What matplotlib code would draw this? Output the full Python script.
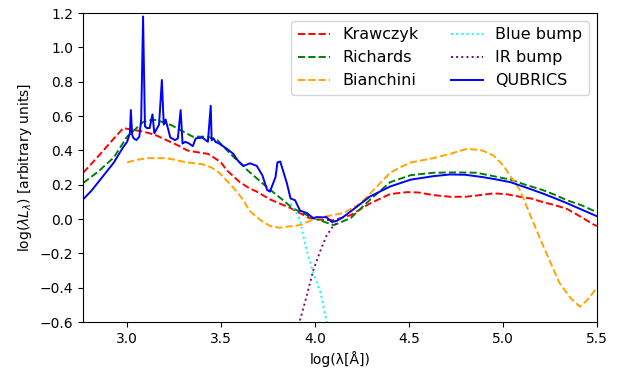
import numpy as np
import matplotlib
matplotlib.use("Agg")
import matplotlib.pyplot as plt

# values
kraw_x = [2.766, 2.85, 2.93, 2.98, 3.03, 3.085, 3.15, 3.21, 3.27, 3.32, 3.37, 3.43, 3.46, 3.50, 3.53,
          3.60, 3.65, 3.69, 3.76, 3.87, 3.97, 4.04, 4.10, 4.19, 4.29, 4.40, 4.49, 4.55, 4.63, 4.72,
          4.80, 4.88, 4.95, 5.02, 5.09, 5.15, 5.21, 5.28, 5.34, 5.42, 5.48, 5.5]
kraw_y = [0.27, 0.37, 0.47, 0.53, 0.52, 0.51, 0.49, 0.46, 0.43, 0.40, 0.39, 0.38, 0.36, 0.33, 0.285,
          0.215, 0.18, 0.16, 0.115, 0.064, 0.006, -0.005, -0.006, 0.023, 0.09, 0.146, 0.157, 0.155, 0.14, 0.13,
          0.13, 0.14, 0.15, 0.145, 0.13, 0.12, 0.10, 0.08, 0.06, 0.01, -0.03, -0.04]

rich_x = [2.766, 2.85, 2.93, 3.0, 3.05, 3.085, 3.14, 3.19, 3.24, 3.28, 3.35, 3.43, 3.48, 3.55, 3.64,
          3.74, 3.83, 3.88, 3.99, 4.10, 4.19, 4.29, 4.40, 4.51, 4.63, 4.75, 4.86, 4.95, 5.04, 5.12,
          5.21, 5.28, 5.34, 5.42, 5.5]
rich_y = [0.21, 0.28, 0.36, 0.48, 0.53, 0.565, 0.58, 0.565, 0.545, 0.52, 0.48, 0.48, 0.46, 0.38, 0.285,
          0.19, 0.11, 0.064, 0.006, -0.035, 0.006, 0.11, 0.215, 0.256, 0.27, 0.272, 0.27, 0.25, 0.23, 0.20,
          0.17, 0.14, 0.11, 0.08, 0.04]

bian_x = [3.0, 3.05, 3.11, 3.21, 3.32, 3.40, 3.45, 3.49, 3.56, 3.62, 3.65, 3.71, 3.76, 3.81, 3.92,
          4.01, 4.15, 4.24, 4.33, 4.40, 4.45, 4.51, 4.63, 4.72, 4.81, 4.89, 4.95, 5.0, 5.09, 5.20,
          5.30, 5.36, 5.41, 5.45, 5.5]
bian_y = [0.33, 0.345, 0.355, 0.355, 0.33, 0.32, 0.30, 0.27, 0.19, 0.11, 0.05, -0.006, -0.04, -0.05, -0.035,
          0.006, 0.035, 0.09, 0.19, 0.27, 0.30, 0.33, 0.355, 0.38, 0.41, 0.40, 0.37, 0.315, 0.17, -0.12,
          -0.37, -0.46, -0.51, -0.47, -0.40]

blue_bump_x = [3.87, 3.90, 3.92, 3.955, 3.99, 4.03, 4.06, 4.07]
blue_bump_y = [0.09, 0.04, -0.006, -0.18, -0.31, -0.43, -0.59, -0.62]

ir_bump_x = [3.915, 3.92, 3.955, 3.99, 4.03, 4.06, 4.09, 4.12]
ir_bump_y = [-0.62, -0.59, -0.45, -0.30, -0.18, -0.10, -0.05, -0.02]

qub_x = [2.766, 2.81, 2.85, 2.89, 2.93, 2.96, 2.98, 3.0, 3.015, 3.02, 3.027, 3.035, 3.05, 3.065,
         3.075, 3.085, 3.095, 3.106, 3.12, 3.135, 3.145, 3.155, 3.17, 3.185, 3.195, 3.205, 3.23,
         3.255, 3.27, 3.285, 3.295, 3.31, 3.33, 3.35, 3.365, 3.40, 3.43, 3.445, 3.45, 3.46, 3.47,
         3.49, 3.53, 3.565, 3.59, 3.62, 3.654, 3.69, 3.72, 3.745, 3.76, 3.79, 3.80, 3.815, 3.85,
         3.87, 3.894, 3.92, 3.957, 3.99, 4.01, 4.04, 4.06, 4.09, 4.115, 4.15, 4.22, 4.29, 4.40,
         4.51, 4.63, 4.72, 4.80, 4.89, 4.96, 5.04, 5.12, 5.21, 5.28, 5.34, 5.42, 5.5]
qub_y = [0.115, 0.165, 0.22, 0.275, 0.33, 0.385, 0.42, 0.45, 0.50, 0.635, 0.49, 0.47, 0.46, 0.48,
         0.58, 1.18, 0.54, 0.53, 0.53, 0.61, 0.50, 0.52, 0.55, 0.81, 0.55, 0.58, 0.475,
         0.46, 0.47, 0.635, 0.44, 0.45, 0.44, 0.425, 0.47, 0.475, 0.45, 0.66, 0.46, 0.47, 0.45,
         0.44, 0.41, 0.38, 0.34, 0.31, 0.325, 0.31, 0.255, 0.17, 0.16, 0.245, 0.33, 0.335, 0.21,
         0.12, 0.11, 0.05, 0.035, 0.006, 0.012, 0.01, 0.012, -0.017, -0.01, 0.012, 0.07, 0.13, 0.19,
         0.23, 0.25, 0.26, 0.258, 0.245, 0.232, 0.215, 0.185, 0.15, 0.12, 0.093, 0.055, 0.017]

fig, ax = plt.subplots(figsize=(6.25, 3.72), dpi=100)
fig.subplots_adjust(left=0.133, right=0.955, top=0.965, bottom=0.134)

ax.plot(kraw_x, kraw_y, '--', color='red', lw=1.4, label='Krawczyk')
ax.plot(rich_x, rich_y, '--', color='green', lw=1.4, label='Richards')
ax.plot(bian_x, bian_y, '--', color='orange', lw=1.4, label='Bianchini')
ax.plot(blue_bump_x, blue_bump_y, ':', color='cyan', lw=1.4, label='Blue bump')
ax.plot(ir_bump_x, ir_bump_y, ':', color='purple', lw=1.4, label='IR bump')
ax.plot(qub_x, qub_y, '-', color='blue', lw=1.4, label='QUBRICS')

ax.set_xlim(2.766, 5.5)
ax.set_ylim(-0.6, 1.2)
ax.set_xticks([3.0, 3.5, 4.0, 4.5, 5.0, 5.5])
ax.set_yticks(np.arange(-0.6, 1.21, 0.2))
ax.set_xlabel('log(λ[Å])')
ax.set_ylabel(r'log($\lambda L_\lambda$) [arbitrary units]')
ax.legend(ncol=2, loc='upper right', fontsize=11.5)

plt.savefig('out.png', dpi=100)
plt.close()
